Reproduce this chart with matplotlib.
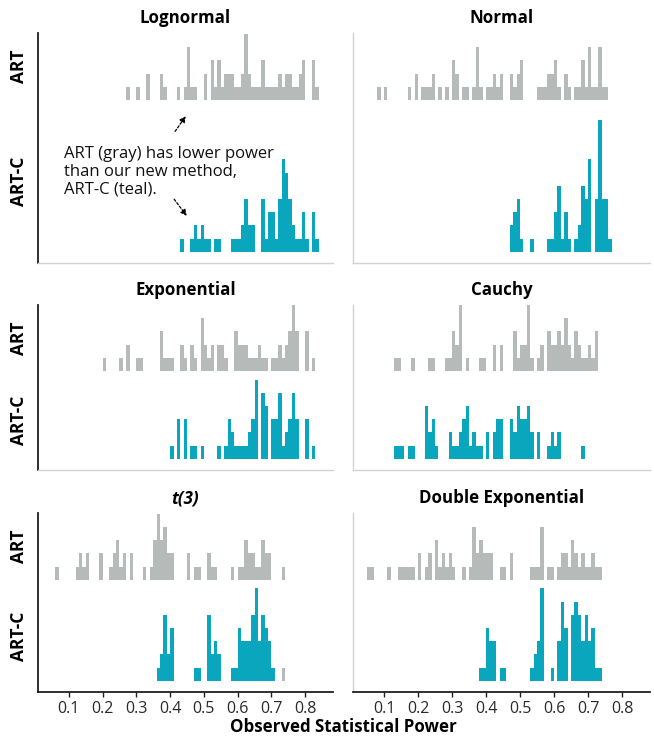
import matplotlib.pyplot as plt
import numpy as np

# Histogram data: bin = left edge of a 0.01-wide power bin (in hundredths), count = simulations
lognormal_art_bins = [27, 30, 33, 37, 38, 42, 44, 45, 46, 47, 50, 52, 53, 54, 55, 56, 57, 58, 59, 60, 61,
                      62, 63, 64, 65, 66, 67, 68, 69, 70, 71, 72, 73, 74, 75, 76, 77, 78, 79, 82, 83]
lognormal_art_counts = [1, 1, 2, 2, 1, 1, 1, 4, 1, 1, 2, 3, 1, 3, 1, 2, 2, 2, 1, 1, 2,
                        5, 2, 1, 1, 1, 3, 1, 1, 1, 1, 2, 1, 2, 2, 1, 1, 2, 3, 3, 1]
lognormal_artc_bins = [43, 46, 47, 48, 49, 50, 51, 53, 54, 58, 59, 60, 61, 62, 63, 64,
                       67, 68, 69, 70, 71, 72, 73, 74, 75, 76, 77, 78, 79, 80, 82, 83]
lognormal_artc_counts = [1, 1, 2, 1, 2, 1, 1, 1, 1, 1, 1, 1, 2, 4, 2, 2,
                         4, 1, 3, 3, 1, 4, 7, 6, 4, 2, 1, 1, 3, 1, 3, 1]

normal_art_bins = [8, 10, 17, 19, 21, 22, 23, 24, 26, 28, 30, 31, 33, 34, 36, 37, 38, 40, 41, 42, 43, 44, 47,
                   48, 49, 50, 55, 56, 57, 58, 59, 60, 61, 63, 64, 66, 67, 68, 69, 70, 71, 72, 73, 74, 75]
normal_art_counts = [1, 1, 1, 2, 1, 1, 1, 2, 1, 1, 3, 2, 1, 1, 1, 4, 1, 1, 1, 2, 1, 2, 2,
                     1, 2, 3, 1, 1, 1, 2, 2, 3, 1, 2, 1, 1, 1, 3, 1, 4, 1, 1, 4, 1, 1]
normal_artc_bins = [47, 48, 49, 50, 53, 58, 59, 60, 61, 62, 63, 64, 66, 67, 68, 69, 70, 72, 73, 74, 75, 76]
normal_artc_counts = [2, 3, 4, 1, 1, 1, 1, 3, 5, 1, 3, 1, 1, 2, 5, 4, 7, 4, 10, 4, 4, 1]

exponential_art_bins = [20, 25, 27, 30, 31, 37, 38, 39, 40, 43, 44, 46, 47, 49, 50, 51, 52, 54, 55, 56,
                        59, 60, 61, 62, 63, 64, 65, 66, 67, 68, 70, 71, 72, 73, 74, 75, 76, 77, 80, 82]
exponential_art_counts = [1, 1, 2, 1, 1, 3, 1, 1, 1, 2, 1, 2, 1, 4, 2, 1, 2, 2, 2, 1,
                          3, 2, 2, 2, 1, 1, 1, 2, 1, 1, 1, 1, 2, 1, 2, 3, 5, 3, 3, 1]
exponential_artc_bins = [40, 42, 44, 46, 47, 49, 54, 56, 57, 58, 59, 60, 61, 62, 63, 64, 65,
                         67, 68, 70, 71, 72, 73, 74, 75, 76, 77, 80, 82]
exponential_artc_counts = [1, 3, 3, 1, 1, 1, 1, 1, 3, 2, 1, 1, 1, 1, 2, 3, 6,
                           5, 4, 3, 3, 5, 1, 2, 3, 5, 3, 3, 1]

cauchy_art_bins = [13, 14, 18, 23, 24, 28, 29, 30, 31, 32, 34, 38, 39, 42, 44, 48, 49, 50, 51,
                   52, 53, 55, 56, 58, 59, 60, 61, 62, 63, 64, 65, 66, 67, 68, 69, 70, 71, 72]
cauchy_art_counts = [1, 1, 1, 1, 1, 1, 1, 3, 2, 5, 1, 1, 1, 2, 2, 3, 1, 2, 2,
                     5, 1, 1, 2, 3, 2, 2, 3, 2, 4, 2, 1, 3, 2, 1, 1, 2, 1, 3]
cauchy_artc_bins = [13, 14, 15, 17, 18, 22, 23, 24, 25, 29, 30, 31, 32, 33, 34, 35, 36, 37, 38,
                    40, 42, 43, 44, 47, 48, 49, 50, 51, 52, 53, 55, 58, 59, 60, 61, 68]
cauchy_artc_counts = [1, 1, 1, 1, 1, 4, 2, 3, 1, 2, 1, 1, 2, 3, 4, 1, 2, 1, 1,
                      2, 2, 3, 3, 3, 2, 4, 3, 3, 4, 2, 2, 1, 2, 1, 2, 1]

t3_art_bins = [6, 12, 13, 14, 15, 19, 22, 23, 24, 25, 26, 28, 32, 34, 35, 36, 37, 38, 39,
               40, 45, 47, 48, 51, 52, 53, 58, 60, 61, 62, 63, 64, 65, 66, 67, 68, 69, 73]
t3_art_counts = [1, 1, 2, 1, 2, 2, 1, 2, 3, 1, 2, 2, 1, 1, 3, 5, 3, 4, 2,
                 2, 2, 1, 1, 2, 1, 1, 1, 1, 1, 3, 2, 2, 1, 1, 3, 2, 2, 1]
t3_artc_bins = [36, 37, 38, 39, 40, 47, 48, 51, 52, 53, 54, 58, 59, 60, 61, 62, 63, 64, 65, 66, 67, 68, 69, 70]
t3_artc_counts = [1, 2, 5, 2, 4, 1, 1, 5, 2, 3, 2, 1, 1, 4, 3, 3, 3, 5, 7, 3, 5, 4, 3, 1]
# stray gray bar sitting on the ART-C row in the t(3) panel
t3_stray_bins = [73]
t3_stray_counts = [1]

dexp_art_bins = [5, 6, 11, 14, 15, 16, 17, 18, 20, 22, 23, 25, 26, 27, 28, 29, 30, 33, 35, 36, 37, 38, 39, 40,
                 41, 44, 45, 47, 53, 54, 55, 56, 58, 59, 61, 62, 63, 64, 65, 66, 67, 68, 69, 70, 71, 72, 73]
dexp_art_counts = [1, 1, 1, 1, 1, 1, 1, 1, 2, 1, 2, 3, 1, 2, 1, 2, 1, 1, 1, 4, 2, 3, 2, 2,
                   2, 1, 1, 2, 1, 1, 1, 4, 1, 1, 1, 2, 2, 1, 3, 2, 1, 2, 1, 1, 2, 1, 1]
dexp_artc_bins = [38, 39, 40, 41, 42, 44, 45, 53, 54, 55, 56, 59, 61, 62, 63, 65, 66, 67, 68, 69, 70, 71, 72, 73]
dexp_artc_counts = [1, 1, 4, 3, 3, 1, 1, 1, 2, 3, 7, 1, 3, 6, 4, 5, 6, 5, 3, 5, 3, 4, 1, 1]

titles = ['Lognormal', 'Normal', 'Exponential', 'Cauchy', 't(3)', 'Double Exponential']
x_ticks = [0.1, 0.2, 0.3, 0.4, 0.5, 0.6, 0.7, 0.8]

plt.rcParams['font.family'] = ['Open Sans', 'DejaVu Sans']

GRAY = '#b6bbba'
TEAL = '#0aa6be'
DARK = '#1f1f1f'
LIGHT = '#d2d2d2'

edges = np.arange(0, 91) / 100


def draw_hist(ax, bins, counts, bottom, color):
    # place each count in the middle of its 0.01 bin and let hist do the rest
    centers = np.array(bins) / 100 + 0.005
    ax.hist(centers, bins=edges, weights=counts, bottom=bottom,
            histtype='stepfilled', color=color, linewidth=0)


panels = [
    (lognormal_art_bins, lognormal_art_counts, lognormal_artc_bins, lognormal_artc_counts),
    (normal_art_bins, normal_art_counts, normal_artc_bins, normal_artc_counts),
    (exponential_art_bins, exponential_art_counts, exponential_artc_bins, exponential_artc_counts),
    (cauchy_art_bins, cauchy_art_counts, cauchy_artc_bins, cauchy_artc_counts),
    (t3_art_bins, t3_art_counts, t3_artc_bins, t3_artc_counts),
    (dexp_art_bins, dexp_art_counts, dexp_artc_bins, dexp_artc_counts),
]

W, H = 654, 740
unit_px = 13.2
cols = [(38, 295), (353, 297)]
# top px, height px, ART baseline (in count units above axes bottom)
rows = [(33, 230, 12.35), (305, 165, 7.5), (513, 179, 8.5)]
artc_base = 0.85

fig = plt.figure(figsize=(W / 100, H / 100), dpi=100)

for i, (art_b, art_c, artc_b, artc_c) in enumerate(panels):
    r, c = divmod(i, 2)
    x0, w = cols[c]
    y0, h, art_base = rows[r]
    ax = fig.add_axes([x0 / W, 1 - (y0 + h) / H, w / W, h / H])
    ytop = h / unit_px

    draw_hist(ax, art_b, art_c, art_base, GRAY)
    draw_hist(ax, artc_b, artc_c, artc_base, TEAL)
    if titles[i] == 't(3)':
        draw_hist(ax, t3_stray_bins, t3_stray_counts, artc_base, GRAY)

    ax.set_xlim(0.009, 0.882)
    ax.set_ylim(0, ytop)

    for side in ['top', 'right']:
        ax.spines[side].set_visible(False)
    ax.spines['left'].set_color(DARK if c == 0 else LIGHT)
    ax.spines['left'].set_linewidth(1.3 if c == 0 else 1.0)
    ax.spines['bottom'].set_color(DARK if r == 2 else LIGHT)
    ax.spines['bottom'].set_linewidth(1.3 if r == 2 else 1.0)

    ax.set_xticks(x_ticks)
    ax.set_xticklabels([f'{t:.1f}' for t in x_ticks])
    if r == 2:
        ax.tick_params(axis='x', length=3.5, width=1, color=DARK, pad=3,
                       labelsize=11.5, labelcolor='#2a2a2a')
    else:
        ax.tick_params(axis='x', length=0, labelbottom=False)

    if c == 0:
        ax.set_yticks([art_base / 2, (art_base + ytop) / 2])
        ax.set_yticklabels(['ART-C', 'ART'], rotation=90, va='center',
                           fontweight='bold', fontsize=12.5)
        ax.tick_params(axis='y', length=0, pad=7)
    else:
        ax.set_yticks([])

    style = 'italic' if titles[i] == 't(3)' else 'normal'
    ax.set_title(titles[i], fontweight='bold', fontsize=12.2, style=style, pad=7)

    if i == 0:
        ax.text(0.087, 6.9, 'ART (gray) has lower power\nthan our new method,\nART-C (teal).',
                ha='left', va='center', fontsize=12, linespacing=1.15, color='#111111')
        arrow = dict(arrowstyle='-|>', linestyle=(0, (2, 1.5)), color='black',
                     lw=0.9, mutation_scale=9)
        ax.annotate('', xy=(0.451, 11.3), xytext=(0.41, 9.8), arrowprops=arrow)
        ax.annotate('', xy=(0.454, 3.4), xytext=(0.407, 5.0), arrowprops=arrow)

fig.text(343 / W, 1 - 727 / H, 'Observed Statistical Power', ha='center', va='center',
         fontweight='bold', fontsize=12.2)

fig.savefig('out.png', dpi=100)
